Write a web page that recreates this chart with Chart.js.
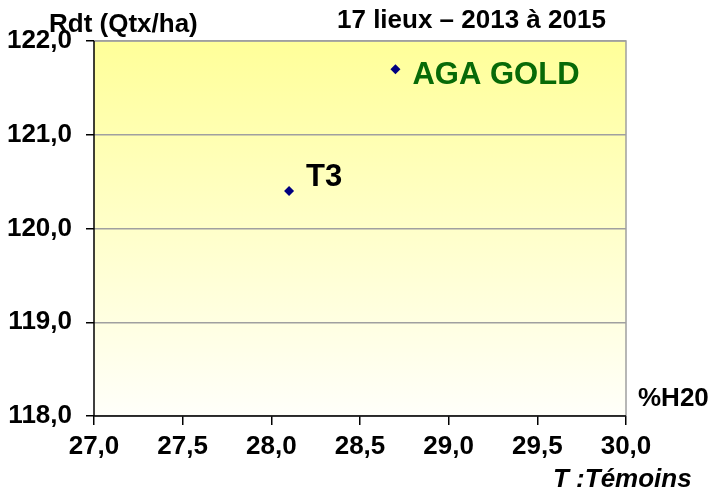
<!DOCTYPE html>
<html><head><meta charset="utf-8">
<script src="https://cdn.jsdelivr.net/npm/chart.js@4/dist/chart.umd.min.js"></script>
<style>html,body{margin:0;padding:0;background:#fff;}#wrap{width:709px;height:494px;position:relative;}</style>
</head><body><div id="wrap"><canvas id="c" width="709" height="494"></canvas></div>
<script>
const pointNames = ["T3", "AGA GOLD"];
const moisture = [28.1, 28.7];
const yieldVals = [120.4, 121.7];
const labelColors = ["#000000", "#086a08"];
const xTicks = [27.0, 27.5, 28.0, 28.5, 29.0, 29.5, 30.0];
const yTicks = [118, 119, 120, 121, 122];

const SANS = '"Liberation Sans", Arial, sans-serif';
const fmt = v => v.toFixed(1).replace('.', ',');

const bgPlugin = {
  id: 'bg',
  beforeDraw(chart) {
    const {ctx, chartArea: a} = chart;
    const g = ctx.createLinearGradient(0, a.top, 0, a.bottom);
    g.addColorStop(0, '#ffff99');
    g.addColorStop(1, '#fffffa');
    ctx.save();
    ctx.fillStyle = g;
    ctx.fillRect(a.left, a.top, a.right - a.left, a.bottom - a.top);
    ctx.restore();
  },
  afterDatasetsDraw(chart) {
    const {ctx, chartArea: a, scales} = chart;
    ctx.save();
    ctx.strokeStyle = '#a0a0a0';
    ctx.lineWidth = 1.5;
    ctx.beginPath();
    ctx.moveTo(a.left, a.top); ctx.lineTo(a.right, a.top); ctx.lineTo(a.right, a.bottom);
    ctx.stroke();
    ctx.strokeStyle = '#000';
    ctx.lineWidth = 1.5;
    ctx.beginPath();
    ctx.moveTo(a.left, a.top); ctx.lineTo(a.left, a.bottom); ctx.lineTo(a.right, a.bottom);
    ctx.stroke();
    ctx.font = 'bold 31px ' + SANS;
    ctx.textBaseline = 'alphabetic';
    ctx.textAlign = 'left';
    pointNames.forEach((n, i) => {
      const x = scales.x.getPixelForValue(moisture[i]);
      const y = scales.y.getPixelForValue(yieldVals[i]);
      ctx.fillStyle = labelColors[i];
      if (i === 0) ctx.fillText(n, x + 17, y - 5);
      else ctx.fillText(n, x + 17, y + 15);
    });
    ctx.fillStyle = '#000';
    ctx.font = 'bold 26px ' + SANS;
    ctx.fillText('Rdt (Qtx/ha)', 49, 32);
    ctx.fillText('17 lieux \u2013 2013 \u00e0 2015', 337, 28);
    ctx.fillText('%H20', 638, 406);
    ctx.font = 'italic bold 26px ' + SANS;
    ctx.fillText('T :T\u00e9moins', 553, 487);
    ctx.restore();
  }
};

new Chart(document.getElementById('c'), {
  type: 'scatter',
  data: {
    datasets: [{
      data: moisture.map((m, i) => ({x: m, y: yieldVals[i]})),
      pointStyle: 'rectRot',
      pointRadius: 5,
      backgroundColor: '#000080',
      borderColor: '#000080',
      borderWidth: 0
    }]
  },
  options: {
    responsive: false,
    animation: false,
    layout: {padding: {top: 41, right: 83, left: 0, bottom: 0}},
    plugins: {legend: {display: false}, tooltip: {enabled: false}},
    scales: {
      x: {
        type: 'linear', min: 27, max: 30,
        afterBuildTicks: s => { s.ticks = xTicks.map(v => ({value: v})); },
        afterFit: s => { s.height = 78; },
        border: {display: false},
        grid: {display: true, drawOnChartArea: false, drawTicks: true, tickLength: 9, color: '#000', lineWidth: 1.5},
        ticks: {color: '#000', padding: 6, maxRotation: 0, font: {family: SANS, size: 26, weight: 'bold'}, callback: v => fmt(v)}
      },
      y: {
        type: 'linear', min: 118, max: 122,
        afterBuildTicks: s => { s.ticks = yTicks.map(v => ({value: v})); },
        afterFit: s => { s.width = 94; },
        border: {display: false},
        grid: {
          display: true, drawTicks: true, tickLength: 8,
          color: '#a0a0a0',
          tickColor: '#000',
          lineWidth: 1.5
        },
        ticks: {color: '#000', padding: 14, font: {family: SANS, size: 26, weight: 'bold'}, callback: v => fmt(v)}
      }
    }
  },
  plugins: [bgPlugin]
});
</script></body></html>
